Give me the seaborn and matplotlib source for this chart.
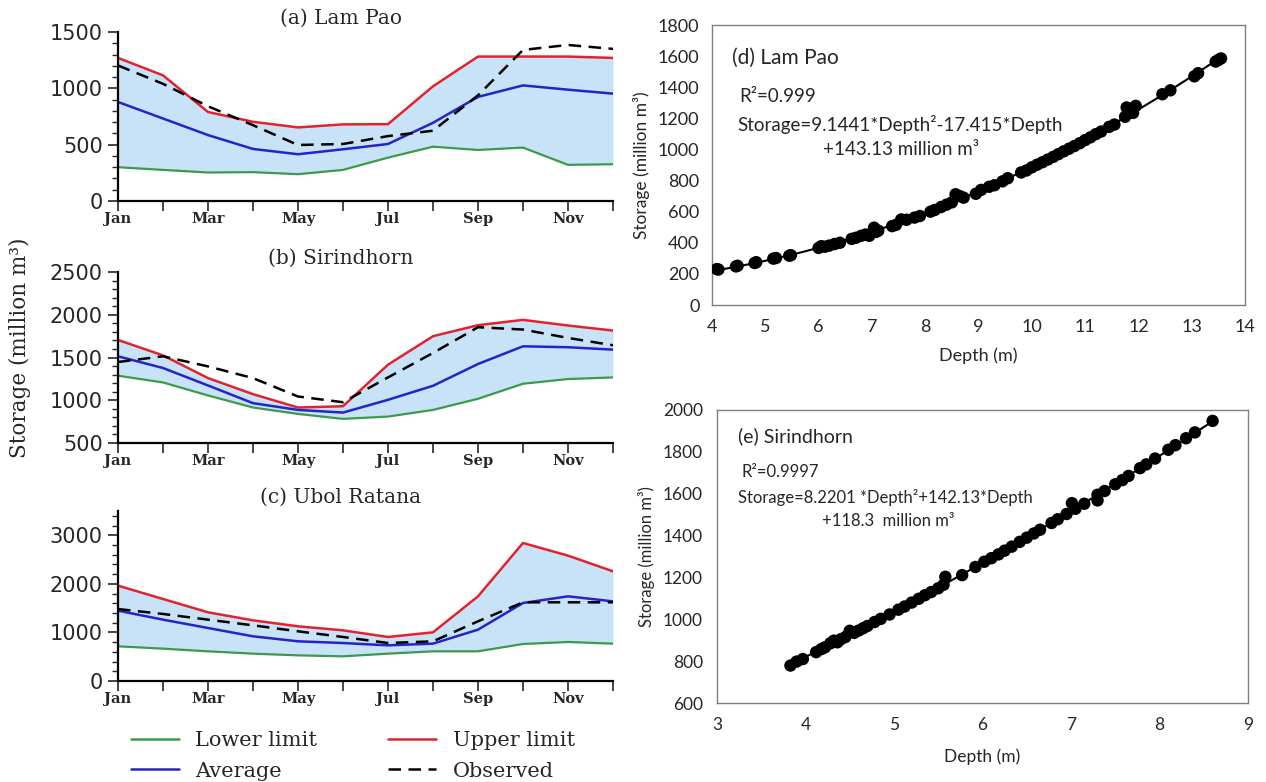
import numpy as np
import pandas as pd
import matplotlib
matplotlib.use("Agg")
import matplotlib.pyplot as plt
from matplotlib.lines import Line2D
import seaborn as sns

# ---------------- data ----------------
months = list(range(1, 13))
month_labels = ["Jan", "", "Mar", "", "May", "", "Jul", "", "Sep", "", "Nov", ""]

lampao_lower = [300, 276, 253, 256, 238, 276, 385, 482, 453, 474, 321, 326]
lampao_upper = [1270, 1115, 790, 703, 653, 680, 682, 1018, 1282, 1282, 1282, 1270]
lampao_avg = [879, 732, 585, 462, 415, 459, 506, 694, 924, 1026, 988, 953]
lampao_obs = [1203, 1040, 841, 673, 497, 506, 576, 624, 938, 1341, 1385, 1350]

sirin_lower = [1287, 1208, 1056, 915, 840, 782, 809, 887, 1017, 1193, 1248, 1267]
sirin_upper = [1705, 1525, 1259, 1071, 915, 930, 1416, 1749, 1878, 1940, 1874, 1815]
sirin_avg = [1514, 1377, 1173, 966, 887, 856, 1005, 1169, 1424, 1631, 1620, 1592]
sirin_obs = [1447, 1514, 1396, 1259, 1044, 977, 1267, 1553, 1854, 1827, 1729, 1643]

ubol_lower = [714, 666, 611, 563, 528, 508, 563, 611, 611, 762, 803, 769]
ubol_upper = [1963, 1688, 1414, 1249, 1126, 1043, 906, 1002, 1743, 2841, 2581, 2258]
ubol_avg = [1448, 1263, 1091, 920, 817, 782, 734, 769, 1057, 1606, 1743, 1640]
ubol_obs = [1482, 1380, 1263, 1146, 1023, 906, 782, 817, 1229, 1620, 1620, 1620]

lp_depth = [4.09, 4.12, 4.45, 4.48, 4.8, 4.83, 5.15, 5.2, 5.45, 5.48, 6.0, 6.05, 6.12, 6.2,
            6.3, 6.4, 6.62, 6.7, 6.8, 6.88, 6.95, 7.04, 7.08, 7.12, 7.38, 7.45, 7.55, 7.65,
            7.8, 7.9, 8.1, 8.18, 8.3, 8.4, 8.5, 8.57, 8.65, 8.72, 8.95, 9.05, 9.2, 9.3, 9.45,
            9.55, 9.8, 9.9, 10.0, 10.1, 10.2, 10.3, 10.4, 10.5, 10.6, 10.7, 10.8, 10.9, 11.0,
            11.1, 11.2, 11.3, 11.45, 11.55, 11.75, 11.78, 11.9, 11.95, 12.45, 12.6, 13.05,
            13.12, 13.45, 13.5, 13.55]
lp_storage = [231, 228, 248, 252, 270, 275, 298, 302, 317, 320, 367, 378, 375, 382,
              392, 400, 425, 432, 445, 453, 445, 497, 470, 478, 507, 515, 550, 548,
              562, 572, 600, 611, 630, 645, 660, 712, 700, 690, 715, 740, 760, 770, 795,
              815, 852, 865, 885, 902, 918, 935, 952, 970, 988, 1005, 1022, 1040, 1060,
              1078, 1098, 1115, 1145, 1160, 1210, 1270, 1235, 1280, 1355, 1380, 1470,
              1490, 1565, 1575, 1585]

sr_depth = [3.83, 3.9, 3.97, 4.12, 4.18, 4.22, 4.28, 4.32, 4.36, 4.4, 4.45, 4.5, 4.55, 4.6,
            4.65, 4.7, 4.78, 4.85, 4.95, 5.05, 5.12, 5.2, 5.28, 5.35, 5.42, 5.5, 5.56, 5.58,
            5.77, 5.92, 6.02, 6.1, 6.18, 6.25, 6.33, 6.42, 6.5, 6.58, 6.65, 6.78, 6.85, 6.95,
            7.01, 7.05, 7.15, 7.3, 7.3, 7.38, 7.5, 7.58, 7.65, 7.78, 7.85, 7.95, 8.1, 8.18,
            8.3, 8.4, 8.6]
sr_storage = [779, 798, 810, 843, 858, 866, 885, 898, 890, 905, 915, 945, 935, 946,
              957, 968, 987, 1002, 1023, 1046, 1061, 1080, 1098, 1115, 1130, 1148, 1165, 1203,
              1211, 1250, 1275, 1292, 1310, 1328, 1347, 1370, 1390, 1410, 1428, 1460, 1478, 1503,
              1555, 1528, 1552, 1568, 1595, 1613, 1645, 1665, 1685, 1722, 1740, 1768, 1810, 1832,
              1865, 1893, 1948]

# ---------------- style ----------------
sns.set_theme(style="white")
plt.rcParams["font.family"] = ["DejaVu Serif"]

C_LOW = "#3c9a4c"
C_UP = "#e3232c"
C_AVG = "#2424c8"
C_FILL = "#c8e2f8"

fig = plt.figure(figsize=(12.66, 7.82), dpi=100)

def fpos(x0, y0, x1, y1):
    W, H = 1266.0, 782.0
    return [x0 / W, 1 - y1 / H, (x1 - x0) / W, (y1 - y0) / H]

left_specs = [
    ("(a) Lam Pao", lampao_lower, lampao_upper, lampao_avg, lampao_obs, (0, 1500), 500, 100, fpos(118, 32, 613, 201)),
    ("(b) Sirindhorn", sirin_lower, sirin_upper, sirin_avg, sirin_obs, (500, 2500), 500, 100, fpos(118, 272, 613, 443)),
    ("(c) Ubol Ratana", ubol_lower, ubol_upper, ubol_avg, ubol_obs, (0, 3500), 1000, 200, fpos(118, 511, 613, 681)),
]

for title, low, up, avg, obs, ylim, major, minor, pos in left_specs:
    ax = fig.add_axes(pos)
    ax.fill_between(months, low, up, color=C_FILL, lw=0)
    sns.lineplot(x=months, y=low, ax=ax, color=C_LOW, lw=1.6)
    sns.lineplot(x=months, y=avg, ax=ax, color=C_AVG, lw=1.8)
    sns.lineplot(x=months, y=up, ax=ax, color=C_UP, lw=1.8)
    sns.lineplot(x=months, y=obs, ax=ax, color="black", lw=1.8, linestyle=(0, (5, 3)))
    ax.set_xlim(1, 12)
    ax.set_ylim(*ylim)
    ax.set_xticks(months)
    ax.set_xticklabels(month_labels, fontsize=10.5, fontweight="bold")
    for i, t in enumerate(ax.xaxis.get_major_ticks()):
        if i % 2 == 0:
            t.tick1line.set_markersize(0)
    yt = [v for v in range(ylim[0], ylim[1] + 1, major)]
    ax.set_yticks(yt)
    ax.set_yticks(np.arange(ylim[0], ylim[1] + 1, minor), minor=True)
    for lab in ax.get_yticklabels():
        lab.set_fontfamily("DejaVu Sans")
        lab.set_fontsize(15)
    ax.tick_params(axis="x", which="major", direction="out", length=7, width=1.2, pad=1, bottom=True)
    ax.tick_params(axis="y", which="major", direction="out", length=7, width=1.2, pad=4, left=True)
    ax.tick_params(axis="y", which="minor", direction="out", length=4, width=1.0, left=True)
    for s in ["top", "right"]:
        ax.spines[s].set_visible(False)
    for s in ["left", "bottom"]:
        ax.spines[s].set_color("black")
        ax.spines[s].set_linewidth(1.6)
    ax.set_xlabel("")
    ax.set_ylabel("")
    ax.set_title(title, fontsize=14.5, pad=6, x=0.45)
    ax.set_facecolor("white")
    ax.grid(False)

fig.text(20 / 1266, 1 - 348 / 782, "Storage (million m³)", rotation=90, ha="center", va="center",
         fontsize=15.5, family="DejaVu Serif")

handles = [Line2D([], [], color=C_LOW, lw=1.8), Line2D([], [], color=C_AVG, lw=1.8),
           Line2D([], [], color=C_UP, lw=1.8), Line2D([], [], color="black", lw=1.8, linestyle=(0, (5, 3)))]
labels = ["Lower limit", "Average", "Upper limit", "Observed"]
fig.legend(handles, labels, ncol=2, loc="center left", bbox_to_anchor=(112 / 1266, 1 - 756 / 782),
           frameon=False, fontsize=15, handlelength=2.3, handletextpad=0.8, columnspacing=3.4,
           labelspacing=0.55)

# ---------------- right panels ----------------
RF = "Lato"

def scatter_panel(pos, depth, storage, xlim, xt, ylim, yt, tsize, xpad, ypad, xlpad):
    ax = fig.add_axes(pos)
    df = pd.DataFrame({"Depth": depth, "Storage": storage})
    sns.regplot(data=df, x="Depth", y="Storage", order=2, ci=None, ax=ax, truncate=True,
                scatter_kws=dict(s=80, color="black", edgecolor="none", alpha=1, zorder=3),
                line_kws=dict(color="black", lw=1.5, zorder=2))
    ax.set_xlim(*xlim)
    ax.set_ylim(*ylim)
    ax.set_xticks(xt)
    ax.set_yticks(yt)
    ax.set_xticklabels([str(v) for v in xt], family=RF, fontsize=tsize)
    ax.set_yticklabels([str(v) for v in yt], family=RF, fontsize=tsize)
    ax.tick_params(axis="x", length=0, pad=xpad)
    ax.tick_params(axis="y", length=0, pad=ypad)
    for s in ax.spines.values():
        s.set_visible(True)
        s.set_color("#7f7f7f")
        s.set_linewidth(1.0)
    ax.set_xlabel("Depth (m)", family=RF, fontsize=tsize, labelpad=xlpad)
    ax.set_ylabel("Storage (million m³)", family=RF, fontsize=tsize - 0.5, labelpad=6)
    ax.set_facecolor("white")
    ax.grid(False)
    return ax

axd = scatter_panel(fpos(712, 25, 1245, 305), lp_depth, lp_storage, (4, 14), list(range(4, 15)),
                    (0, 1800), list(range(0, 1801, 200)), 13, 10, 9, 9)
axd.text(0.038, 0.882, "(d) Lam Pao", transform=axd.transAxes, family=RF, fontsize=15, va="center")
axd.text(0.052, 0.743, "R²=0.999", transform=axd.transAxes, family=RF, fontsize=13.5, va="center")
axd.text(0.047, 0.643, "Storage=9.1441*Depth²-17.415*Depth", transform=axd.transAxes, family=RF,
         fontsize=13.5, va="center")
axd.text(0.208, 0.554, "+143.13 million m³", transform=axd.transAxes, family=RF, fontsize=13.5, va="center")

axe = scatter_panel(fpos(717, 410, 1248, 703), sr_depth, sr_storage, (3, 9), list(range(3, 10)),
                    (600, 2000), list(range(600, 2001, 200)), 12.5, 10, 10, 11)
axe.text(0.04, 0.911, "(e) Sirindhorn", transform=axe.transAxes, family=RF, fontsize=14, va="center")
axe.text(0.047, 0.79, "R²=0.9997", transform=axe.transAxes, family=RF, fontsize=12, va="center")
axe.text(0.04, 0.70, "Storage=8.2201 *Depth²+142.13*Depth", transform=axe.transAxes, family=RF,
         fontsize=12, va="center")
axe.text(0.198, 0.621, "+118.3  million m³", transform=axe.transAxes, family=RF, fontsize=12, va="center")

fig.savefig("out.png", dpi=100, facecolor="white")
